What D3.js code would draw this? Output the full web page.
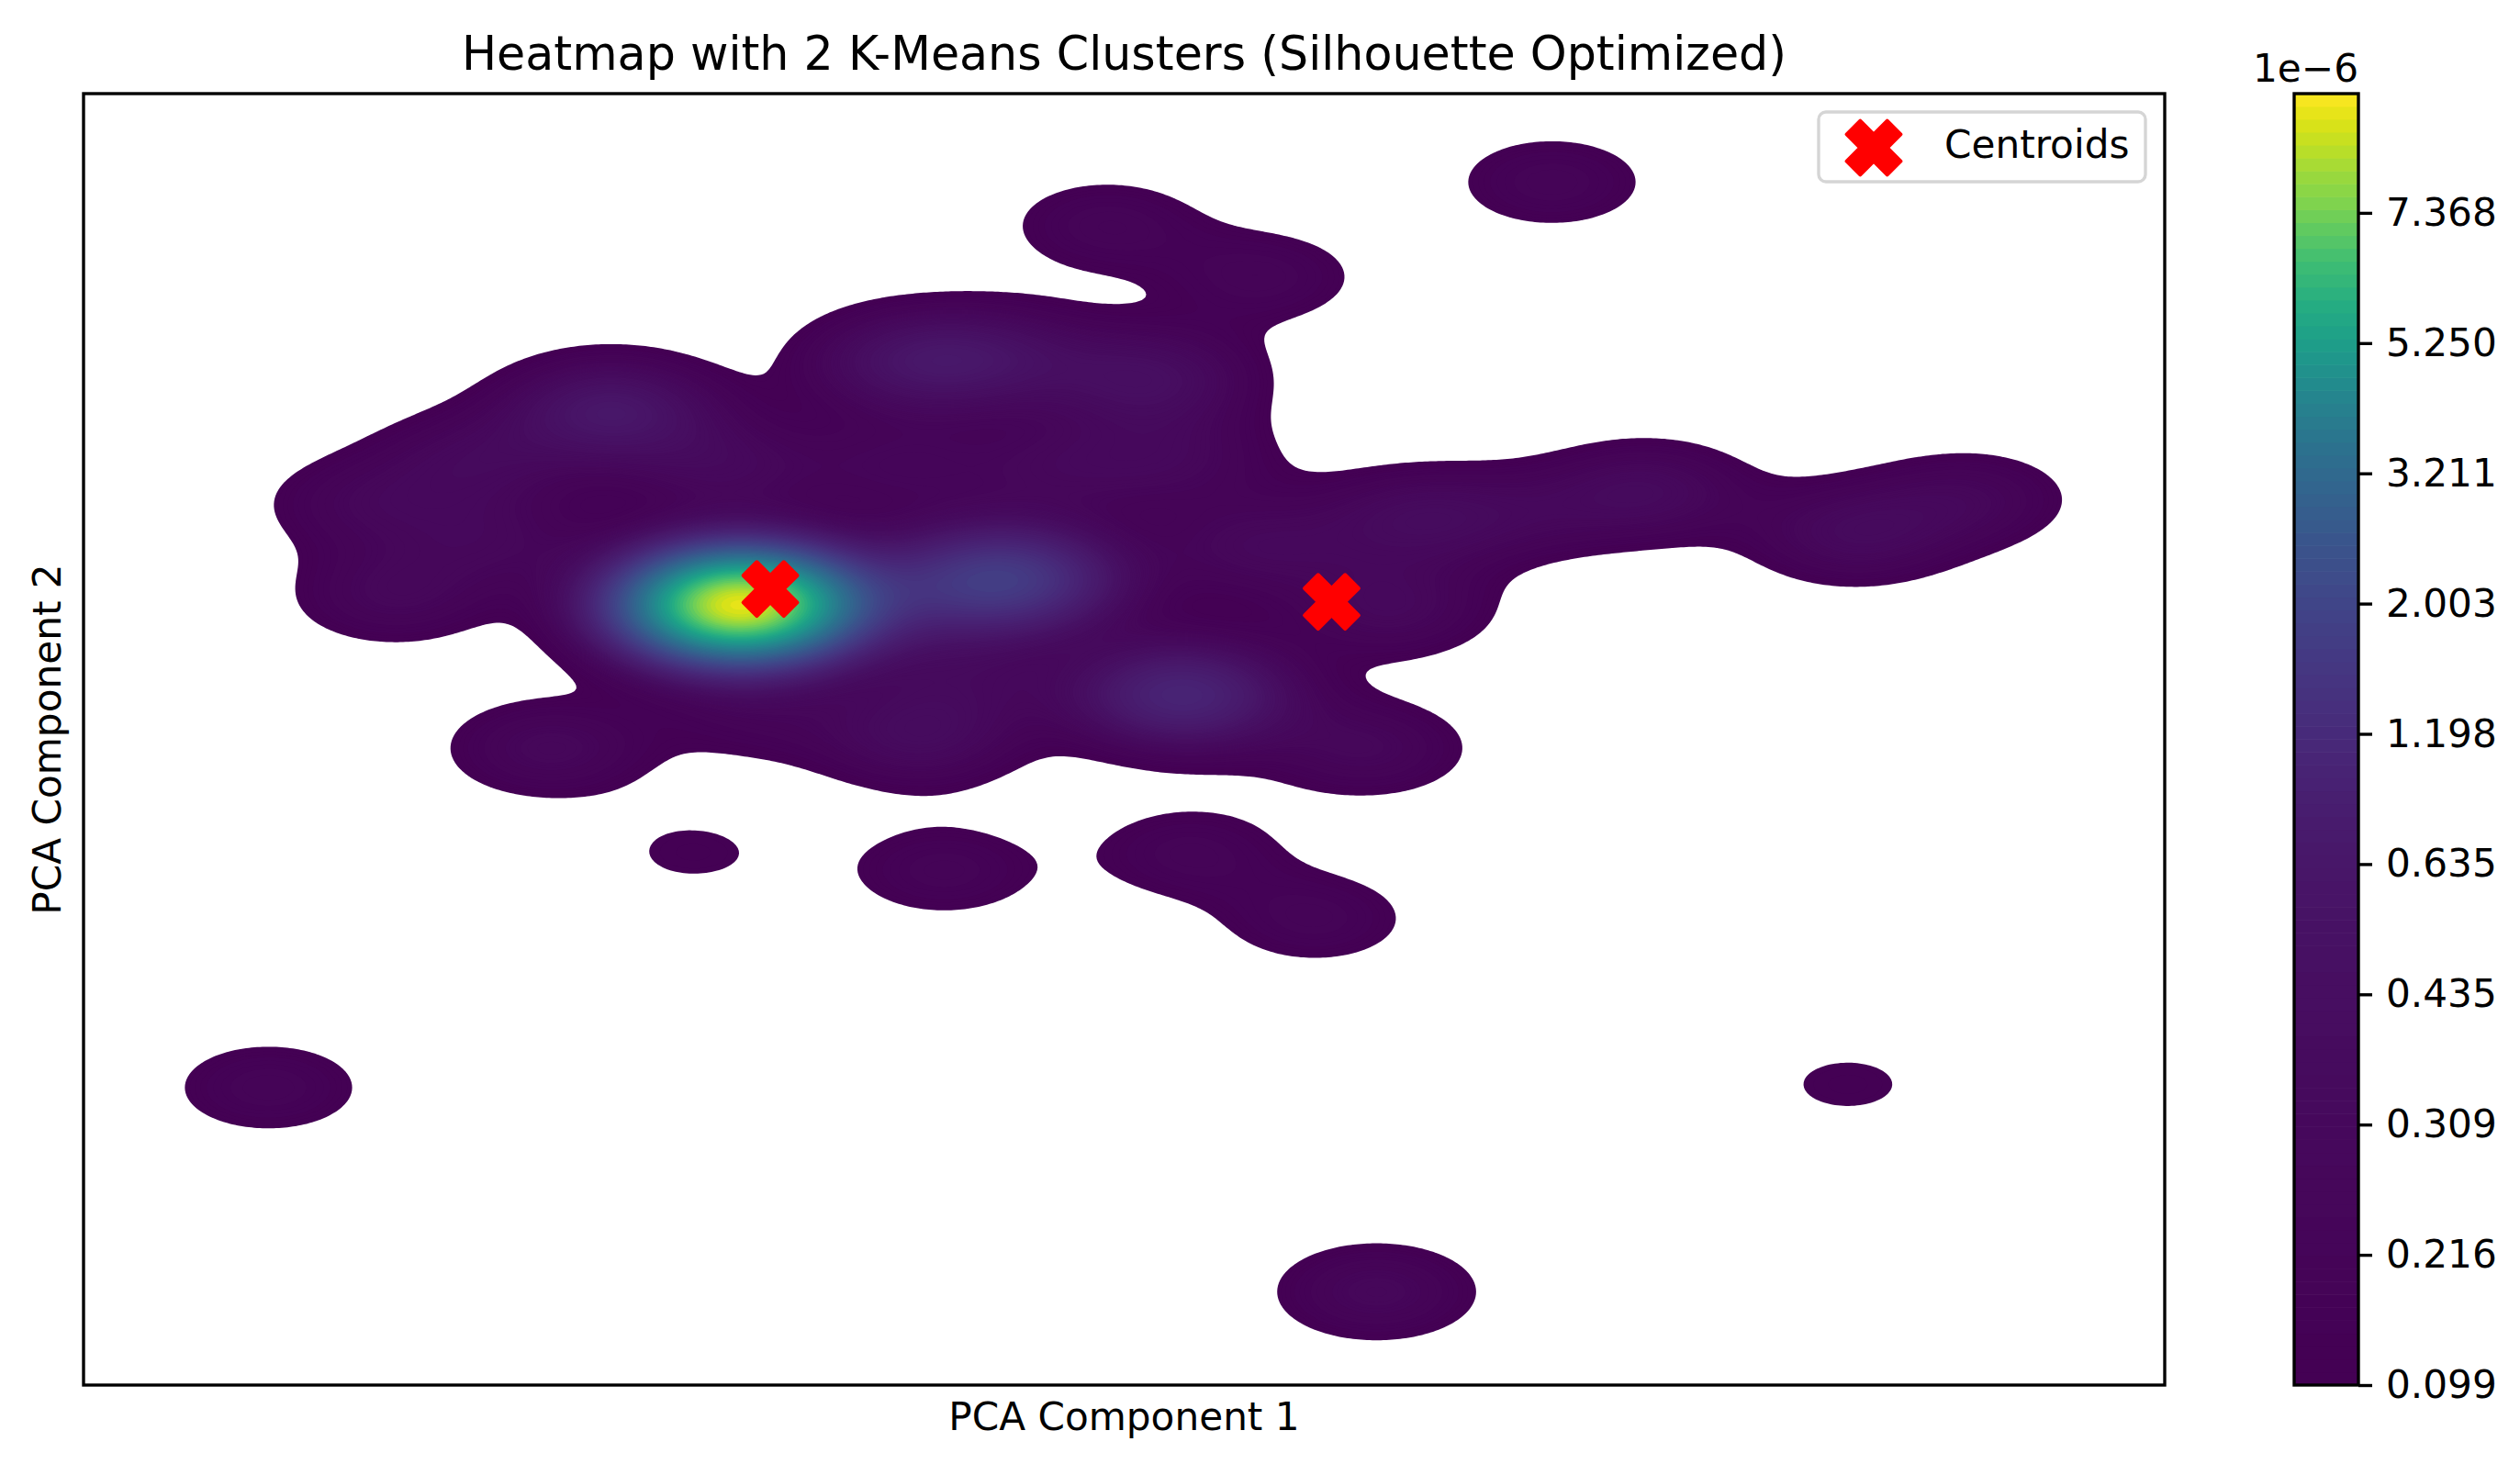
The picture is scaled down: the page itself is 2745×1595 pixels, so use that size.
<!DOCTYPE html>
<html lang="en">
<head>
<meta charset="UTF-8">
<title>Heatmap with 2 K-Means Clusters</title>
<script src="https://d3js.org/d3.v7.min.js"></script>
<style>
    body { margin: 0; background: #fff; }
    svg { display: block; }
    text { font-family: "DejaVu Sans", sans-serif; fill: #000; }
</style>
</head>
<body>
<script>
// weighted points behind the heatmap (the axes carry no ticks,
// so these are plain reading units, y running downwards)
var pointX = [965, 856, 167, 431, 1149, 587, 739, 818, 460, 625, 735, 380, 565, 620, 715, 342, 572,
    850, 245, 225, 295, 450, 560, 660, 688, 785, 880, 1025, 1152, 1225, 865, 780, 470, 950, 310, 600, 735, 560];
var pointY = [113, 803, 676, 530, 674, 541, 530, 571, 376, 360, 432, 255, 225, 222, 235, 465, 458,
    465, 370, 313, 285, 290, 290, 290, 140, 172, 322, 305, 332, 310, 378, 340, 445, 320, 335, 420, 285, 370];
var pointWeight = [0.196, 0.26, 0.196, 0.118, 0.12, 0.19, 0.185, 0.185, 8.9, 1.6, 1.0, 0.6, 0.45, 0.35, 0.4, 0.26, 0.33,
    0.24, 0.24, 0.2, 0.25, 0.25, 0.2, 0.2, 0.195, 0.19, 0.3, 0.3, 0.3, 0.22, 0.27, 0.25, 0.15, 0.15, 0.2, 0.2, 0.2, 0.4];
var bandwidthX = 44.5, bandwidthY = 21.7;

var centroidX = [479, 828];
var centroidY = [366, 374];

var cbarTicks = [0.099, 0.216, 0.309, 0.435, 0.635, 1.198, 2.003, 3.211, 5.250, 7.368];
var cbarTop = 9.3;
var levelCount = 100;

var W = 2745, H = 1595;
var plot = { left: 91, right: 2358, top: 102, bottom: 1509 };
var bar = { left: 2499, right: 2569, top: 102, bottom: 1509 };
var tickGap = 141.9;
var lineW = 3.38;
var fontSize = 42.2, titleSize = 50.7;

var svg = d3.select("body").append("svg").attr("width", W).attr("height", H);

var x = d3.scaleLinear().domain([52, 1346]).range([plot.left, plot.right]);
var y = d3.scaleLinear().domain([58, 861]).range([plot.top, plot.bottom]);

// colorbar: ticks are evenly spaced although the values are not
var cbarY = d3.scaleLog()
    .domain(cbarTicks.concat([cbarTop]))
    .range(cbarTicks.map(function(d, i) { return bar.bottom - i * tickGap; }).concat([bar.top]));

var levels = d3.range(levelCount + 1).map(function(i) {
    return cbarY.invert(bar.bottom - i * (bar.bottom - bar.top) / levelCount);
});
function bandColor(i) {
    var mid = (levels[i] + levels[i + 1]) / 2;
    return d3.interpolateViridis((mid - levels[0]) / (levels[levelCount] - levels[0]));
}

// density grid
var step = 3;
var nx = Math.ceil((plot.right - plot.left) / step) + 1;
var ny = Math.ceil((plot.bottom - plot.top) / step) + 1;
var grid = new Float64Array(nx * ny);
for (var j = 0; j < ny; j++) {
    var gy = y.invert(plot.top + j * step);
    for (var i = 0; i < nx; i++) {
        var gx = x.invert(plot.left + i * step);
        var s = 0;
        for (var k = 0; k < pointX.length; k++) {
            var dx = (gx - pointX[k]) / bandwidthX;
            var dy = (gy - pointY[k]) / bandwidthY;
            s += pointWeight[k] * Math.exp(-0.5 * (dx * dx + dy * dy));
        }
        grid[j * nx + i] = s;
    }
}

var contours = d3.contours().size([nx, ny]).thresholds(levels.slice(0, levelCount))(grid);
var path = d3.geoPath(d3.geoTransform({
    point: function(px, py) {
        this.stream.point(plot.left + (px - 0.5) * step, plot.top + (py - 0.5) * step);
    }
}));

svg.append("g").selectAll("path")
    .data(contours)
    .enter()
    .append("path")
    .attr("d", path)
    .attr("fill", function(d, i) { return bandColor(i); });

// plot frame
svg.append("rect")
    .attr("x", plot.left).attr("y", plot.top)
    .attr("width", plot.right - plot.left).attr("height", plot.bottom - plot.top)
    .attr("fill", "none").attr("stroke", "#000").attr("stroke-width", lineW);

// X marker, same outline as matplotlib's filled x
var xShape = [[1, 0], [2, 1], [3, 0], [4, 1], [3, 2], [4, 3], [3, 4], [2, 3], [1, 4], [0, 3], [1, 2], [0, 1]];
var markerUnit = 14.7;
var markerPath = d3.line()
    .x(function(d) { return (d[0] - 2) * markerUnit; })
    .y(function(d) { return (d[1] - 2) * markerUnit; })
    .curve(d3.curveLinearClosed)(xShape);

svg.append("g").selectAll("path")
    .data(centroidX)
    .enter()
    .append("path")
    .attr("d", markerPath)
    .attr("transform", function(d, i) { return "translate(" + x(d) + "," + y(centroidY[i]) + ")"; })
    .attr("fill", "#f00").attr("stroke", "#f00").attr("stroke-width", 4).attr("stroke-linejoin", "round");

// legend
svg.append("rect")
    .attr("x", 1981).attr("y", 122).attr("width", 356).attr("height", 76).attr("rx", 8)
    .attr("fill", "#fff").attr("fill-opacity", 0.8).attr("stroke", "#d5d5d5").attr("stroke-width", lineW);
svg.append("path")
    .attr("d", markerPath).attr("transform", "translate(2041,161)")
    .attr("fill", "#f00").attr("stroke", "#f00").attr("stroke-width", 4).attr("stroke-linejoin", "round");
svg.append("text").attr("x", 2118).attr("y", 172).attr("font-size", fontSize).text("Centroids");

// titles
svg.append("text").attr("x", (plot.left + plot.right) / 2).attr("y", 76)
    .attr("text-anchor", "middle").attr("font-size", titleSize)
    .text("Heatmap with 2 K-Means Clusters (Silhouette Optimized)");
svg.append("text").attr("x", (plot.left + plot.right) / 2).attr("y", 1558)
    .attr("text-anchor", "middle").attr("font-size", fontSize).text("PCA Component 1");
svg.append("text")
    .attr("transform", "translate(66," + (plot.top + plot.bottom) / 2 + ") rotate(-90)")
    .attr("text-anchor", "middle").attr("font-size", fontSize).text("PCA Component 2");

// colorbar
var bandH = (bar.bottom - bar.top) / levelCount;
svg.append("g").selectAll("rect")
    .data(d3.range(levelCount))
    .enter()
    .append("rect")
    .attr("x", bar.left).attr("width", bar.right - bar.left)
    .attr("y", function(i) { return bar.bottom - (i + 1) * bandH - 0.3; })
    .attr("height", bandH + 0.6)
    .attr("fill", bandColor);

var cbarAxis = d3.axisRight(cbarY)
    .tickValues(cbarTicks)
    .tickFormat(d3.format(".3f"))
    .tickSize(15)
    .tickPadding(15);
var axisG = svg.append("g").attr("transform", "translate(" + bar.right + ",0)").call(cbarAxis);
axisG.select(".domain").remove();
axisG.selectAll("line").attr("stroke", "#000").attr("stroke-width", lineW);
axisG.selectAll("text").attr("font-size", fontSize).attr("font-family", "DejaVu Sans").attr("fill", "#000");

svg.append("rect")
    .attr("x", bar.left).attr("y", bar.top)
    .attr("width", bar.right - bar.left).attr("height", bar.bottom - bar.top)
    .attr("fill", "none").attr("stroke", "#000").attr("stroke-width", lineW);
svg.append("text").attr("x", bar.right).attr("y", 89)
    .attr("text-anchor", "end").attr("font-size", fontSize).text("1e\u22126");
</script>
</body>
</html>
